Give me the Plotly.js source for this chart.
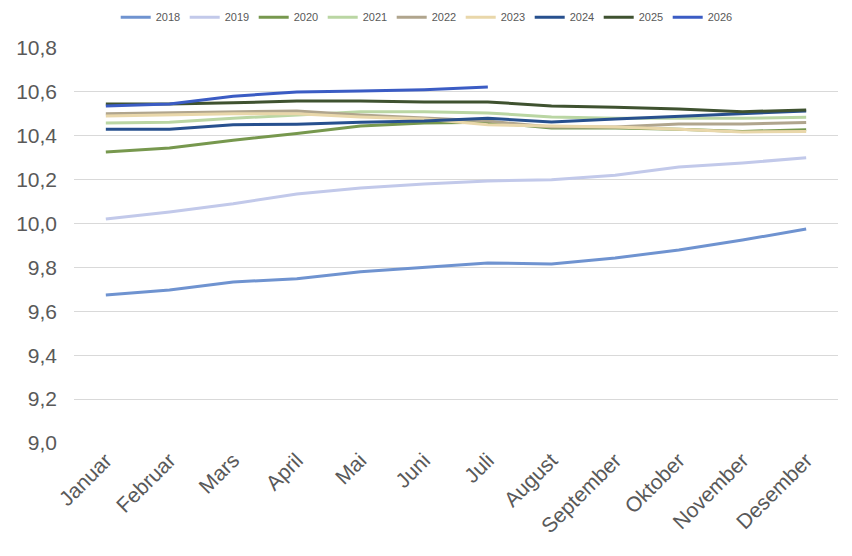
<!DOCTYPE html>
<html lang="no">
<head>
    <meta charset="UTF-8">
    <title>Chart</title>
    <script src="https://cdn.plot.ly/plotly-3.0.1.min.js"></script>
    <style>
        html, body { margin: 0; padding: 0; background: #fff; }
        #plot { width: 852px; height: 556px; }
    </style>
</head>
<body>
<div id="plot"></div>
<script>
    let months = ["Januar", "Februar", "Mars", "April", "Mai", "Juni", "Juli", "August", "September", "Oktober", "November", "Desember"]

    let y2018 = [9.675, 9.697, 9.734, 9.748, 9.78, 9.80, 9.82, 9.816, 9.843, 9.88, 9.925, 9.975]
    let y2019 = [10.021, 10.053, 10.09, 10.135, 10.162, 10.18, 10.194, 10.2, 10.22, 10.258, 10.276, 10.30]
    let y2020 = [10.326, 10.344, 10.38, 10.41, 10.445, 10.458, 10.462, 10.436, 10.436, 10.43, 10.42, 10.427]
    let y2021 = [10.458, 10.462, 10.48, 10.495, 10.51, 10.51, 10.504, 10.486, 10.48, 10.48, 10.48, 10.484]
    let y2022 = [10.50, 10.505, 10.51, 10.513, 10.495, 10.48, 10.467, 10.44, 10.44, 10.454, 10.454, 10.46]
    let y2023 = [10.49, 10.495, 10.50, 10.50, 10.486, 10.476, 10.45, 10.445, 10.44, 10.43, 10.417, 10.42]
    let y2024 = [10.43, 10.43, 10.45, 10.453, 10.462, 10.467, 10.48, 10.463, 10.477, 10.49, 10.50, 10.513]
    let y2025 = [10.545, 10.545, 10.55, 10.558, 10.558, 10.554, 10.554, 10.536, 10.53, 10.522, 10.51, 10.517]
    let y2026 = [10.536, 10.545, 10.58, 10.60, 10.604, 10.61, 10.622]

    let years = ["2018", "2019", "2020", "2021", "2022", "2023", "2024", "2025", "2026"]
    let series = [y2018, y2019, y2020, y2021, y2022, y2023, y2024, y2025, y2026]
    let colors = ["#6f93d0", "#c2c9ea", "#77984e", "#bad6a3", "#b0a58d", "#e9d7aa", "#27508e", "#3f5230", "#3b5cc4"]

    let data = []
    for (let i = 0; i < years.length; i++) {
        data.push({
            x: months.slice(0, series[i].length),
            y: series[i],
            name: years[i],
            type: "scatter",
            mode: "lines",
            line: {color: colors[i], width: 3}
        })
    }

    let layout = {
        width: 852,
        height: 556,
        margin: {l: 74, r: 14, t: 48, b: 113, autoexpand: false},
        paper_bgcolor: "#fff",
        plot_bgcolor: "#fff",
        separators: ",.",
        font: {family: "Liberation Sans, Arial, sans-serif", color: "#595959"},
        showlegend: true,
        legend: {
            orientation: "h",
            x: 0.461,
            xanchor: "center",
            y: 1.078,
            yanchor: "middle",
            font: {size: 11, color: "#595959"},
            entrywidth: 24,
            itemwidth: 30
        },
        xaxis: {
            type: "category",
            range: [-0.5, 11.5],
            tickangle: -45,
            tickfont: {size: 21, color: "#595959"},
            showgrid: false,
            showline: false,
            ticks: ""
        },
        yaxis: {
            range: [9.0, 10.8],
            dtick: 0.2,
            tick0: 9.0,
            tickformat: ".1f",
            tickfont: {size: 21, color: "#595959"},
            gridcolor: "#d9d9d9",
            gridwidth: 1,
            zeroline: false,
            showline: false,
            ticks: "",
            ticklabelstandoff: 16
        }
    }

    Plotly.newPlot("plot", data, layout, {displayModeBar: false})
</script>
</body>
</html>
